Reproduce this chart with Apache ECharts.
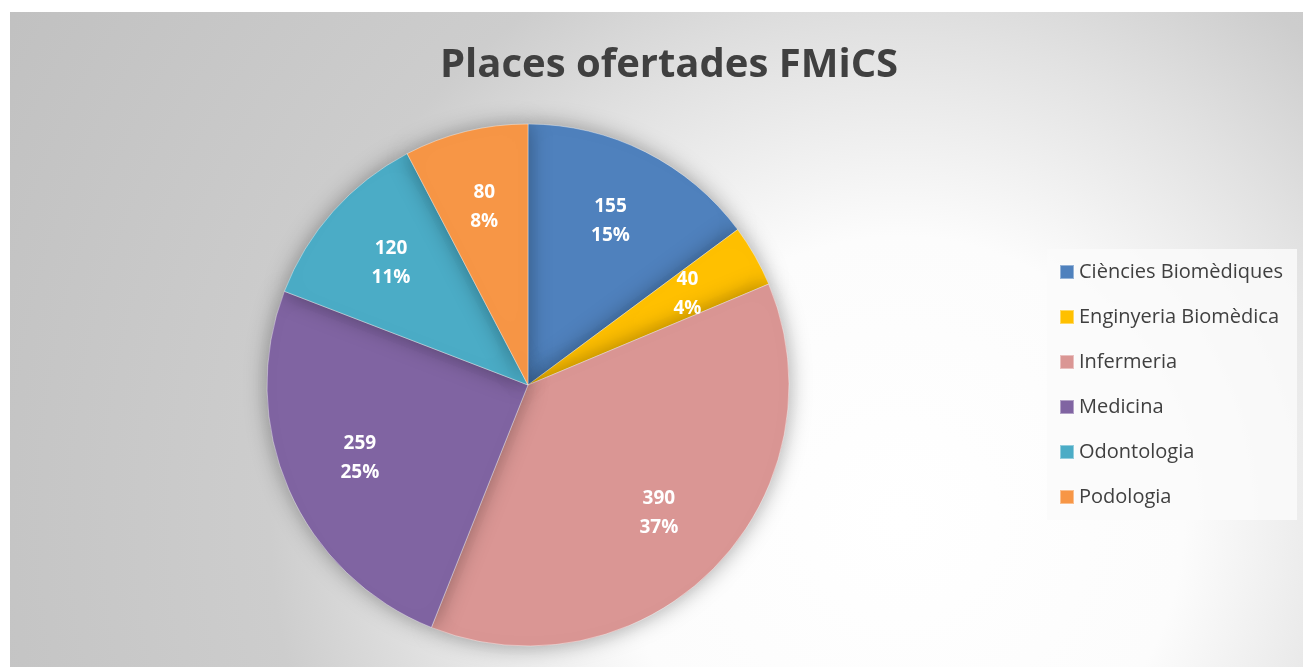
<!DOCTYPE html>
<html>
<head>
<meta charset="utf-8">
<script src="https://cdn.jsdelivr.net/npm/echarts@6/dist/echarts.min.js"></script>
<style>
	html, body { margin: 0; padding: 0; background: #fff; }
	#chart { position: absolute; left: 10px; top: 12px; width: 1293px; height: 655px; }
</style>
</head>
<body>
<div id="chart"></div>
<script>
const categories = ['Ciències Biomèdiques', 'Enginyeria Biomèdica', 'Infermeria', 'Medicina', 'Odontologia', 'Podologia']
const places = [155, 40, 390, 259, 120, 80]
const colors = ['#4F81BD', '#FFC000', '#DA9694', '#8064A2', '#4BACC6', '#F79646']

const pieData = categories.map((name, i) => ({ name, value: places[i] }))

const chart = echarts.init(document.getElementById('chart'))
chart.setOption({
	backgroundColor: {
		type: 'radial', x: 890, y: 508, r: 1050, global: true,
		colorStops: [
			{ offset: 0, color: '#ffffff' },
			{ offset: 0.27, color: '#fcfcfc' },
			{ offset: 0.46, color: '#e2e2e2' },
			{ offset: 0.6, color: '#cdcdcd' },
			{ offset: 1, color: '#c0c0c0' }
		]
	},
	color: colors,
	title: {
		text: 'Places ofertades FMiCS',
		left: 425,
		top: 29,
		textStyle: { fontFamily: 'Open Sans', fontWeight: 'bold', fontSize: 40, color: '#404040' }
	},
	legend: {
		orient: 'vertical',
		left: 1037,
		top: 237,
		padding: [12, 14, 12, 12],
		backgroundColor: 'rgba(250,250,250,0.85)',
		icon: 'rect',
		itemWidth: 14,
		itemHeight: 14,
		itemGap: 23,
		data: categories,
		textStyle: { fontFamily: 'Open Sans', fontSize: 20, color: '#404040', lineHeight: 22 }
	},
	series: [
		{
			type: 'pie',
			center: [518, 373],
			radius: [0, 261],
			startAngle: 90,
			clockwise: true,
			percentPrecision: 0,
			data: pieData,
			label: { show: false },
			labelLine: { show: false },
			itemStyle: {
				borderColor: 'rgba(255,255,255,0.4)',
				borderWidth: 1,
				shadowBlur: 22,
				shadowColor: 'rgba(0,0,0,0.35)'
			},
			emphasis: { scale: false }
		},
		{
			// label layer, same slices, places labels further out than the default
			type: 'pie',
			center: [518, 373],
			radius: [100, 261],
			startAngle: 90,
			clockwise: true,
			percentPrecision: 0,
			silent: true,
			data: pieData,
			itemStyle: { color: 'transparent', borderWidth: 0 },
			label: {
				show: true,
				position: 'inside',
				formatter: '{c}\n{d}%',
				color: '#fff',
				fontFamily: 'Open Sans',
				fontWeight: 'bold',
				fontSize: 19,
				lineHeight: 29
			},
			labelLine: { show: false }
		}
	]
})

window.addEventListener('resize', () => {
	if (chart) chart.resize()
})
</script>
</body>
</html>
